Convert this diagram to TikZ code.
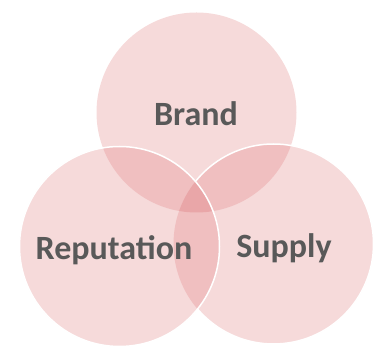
\documentclass[tikz,border=0pt]{standalone}
\usepackage{fontspec}
\setsansfont{Carlito}
\definecolor{vnSingle}{RGB}{246,218,218}
\definecolor{vnDouble}{RGB}{240,191,192}
\definecolor{vnTriple}{RGB}{233,166,168}
\definecolor{vnText}{RGB}{89,89,89}
\begin{document}
\begin{tikzpicture}[x=1pt, y=1pt,
    lbl/.style={font=\sffamily\bfseries\fontsize{34}{40}\selectfont,
                text=vnText, anchor=base, inner sep=0pt},
    rim/.style={draw=white, line width=1.5pt}]
  \useasboundingbox (0,0) rectangle (383,350);
  \def\rad{100pt}
  \coordinate (cB) at (196.5,237.5);
  \coordinate (cR) at (119.5,103.5);
  \coordinate (cS) at (273.5,106);
  % top and right circles
  \fill[vnSingle] (cB) circle[radius=\rad];
  \fill[vnSingle] (cS) circle[radius=\rad];
  \begin{scope}
    \clip (cB) circle[radius=\rad];
    \fill[vnDouble] (cS) circle[radius=\rad];
  \end{scope}
  \draw[rim] (cS) circle[radius=\rad];
  % left circle on top
  \begin{scope}
    \clip (cR) circle[radius=\rad];
    \fill[vnSingle] (cR) circle[radius=\rad];
    \fill[vnDouble] (cB) circle[radius=\rad];
    \fill[vnDouble] (cS) circle[radius=\rad];
    \clip (cB) circle[radius=\rad];
    \fill[vnTriple] (cS) circle[radius=\rad];
  \end{scope}
  \draw[rim] (cR) circle[radius=\rad];
  % labels
  \node[lbl] (brand) at (196,224) {Brand};
  \node[lbl] (reputation) at (114,90) {Reputation};
  \node[lbl] (supply) at (284,92) {Supply};
\end{tikzpicture}
\end{document}
